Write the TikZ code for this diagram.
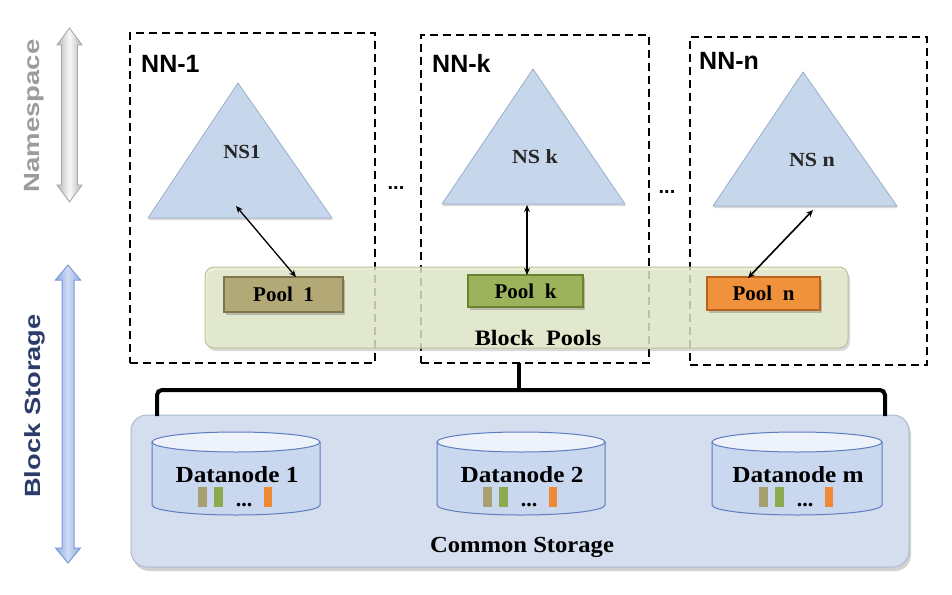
\documentclass[tikz,border=0pt]{standalone}
\usepackage{fontspec}
\setmainfont{Liberation Serif}
\newfontfamily\arialf{Liberation Sans}
\usetikzlibrary{shadows,arrows.meta}
\definecolor{trifill}{HTML}{C6D6EB}
\definecolor{tridraw}{HTML}{9AAFCB}
\definecolor{bpfill}{HTML}{E6EDCC}
\definecolor{bpdraw}{HTML}{BCC29A}
\definecolor{poolA}{HTML}{B3A977}
\definecolor{poolAd}{HTML}{7F754A}
\definecolor{poolB}{HTML}{9CB35C}
\definecolor{poolBd}{HTML}{6A8232}
\definecolor{poolC}{HTML}{F0923C}
\definecolor{poolCd}{HTML}{B8621C}
\definecolor{csfill}{HTML}{D4DEEE}
\definecolor{csdraw}{HTML}{A9B8D2}
\definecolor{cylfill}{HTML}{C9D7EF}
\definecolor{cyltopc}{HTML}{EEF2FA}
\definecolor{cyldraw}{HTML}{5C7DBE}
\definecolor{nsgray}{HTML}{9C9C9C}
\definecolor{nsarrow}{HTML}{A4A4A4}
\definecolor{bsblue}{HTML}{2B3C6B}
\definecolor{bsarrow}{HTML}{BCCDF0}
\definecolor{bsarrowd}{HTML}{7D9AD8}
\definecolor{barA}{HTML}{A9A071}
\definecolor{barB}{HTML}{8CAA4E}
\definecolor{barC}{HTML}{EE8A35}
\newcommand\myfs[1]{\fontsize{#1}{#1}\selectfont}
\begin{document}
\begin{tikzpicture}[x=1pt,y=-1pt,
  nnbox/.style={draw=black, line width=2.6pt, dash pattern=on 8pt off 5pt, inner sep=0pt},
  nnlabel/.style={anchor=base west, inner sep=0pt, font=\arialf\bfseries\myfs{25}},
  tri/.style={fill=trifill, draw=tridraw, line width=0.8pt, drop shadow={shadow xshift=0.5pt, shadow yshift=-2pt, opacity=0.3}},
  nslabel/.style={inner sep=0pt, font=\bfseries\myfs{20}, text=black!85},
  poolbox/.style={line width=2.5pt, minimum height=33pt, inner sep=0pt, font=\bfseries\myfs{21},
    drop shadow={shadow xshift=2pt, shadow yshift=-3pt, opacity=0.45}},
  link/.style={draw=black, line width=1.3pt, {Stealth[length=7pt,width=6pt]}-{Stealth[length=7pt,width=6pt]}},
  dotsep/.style={inner sep=0pt, font=\arialf\bfseries\myfs{20}},
  bracket/.style={draw=black, line width=4pt, rounded corners=5pt},
  cyl/.style={fill=cylfill, draw=cyldraw, line width=1pt},
  cyltop/.style={fill=cyltopc, draw=cyldraw, line width=1pt},
  dnlabel/.style={inner sep=0pt, font=\bfseries\myfs{23}},
  bar/.style={minimum width=9pt, minimum height=20pt, inner sep=0pt},
  sidetext/.style={rotate=90, inner sep=0pt, font=\arialf\bfseries\myfs{22}}
]
\useasboundingbox (0,0) rectangle (952,594);
\fill[white] (0,0) rectangle (952,594);

% side arrows
\draw[draw=nsarrow, line width=0.8pt, left color=nsarrow!80, right color=nsarrow!80, middle color=white!95!gray]
  (69.5,28) -- (82,45) -- (77.5,45) -- (77.5,185) -- (82,185) -- (69.5,202) -- (57,185)
  -- (61.5,185) -- (61.5,45) -- (57,45) -- cycle;
\node[sidetext, text=nsgray] (nstext) at (34,116) {\scalebox{1.25}[1]{Namespace}};
\draw[draw=bsarrowd, line width=1pt, left color=bsarrowd!70!bsarrow, right color=bsarrowd!70!bsarrow, middle color=bsarrow!70!white]
  (68,265) -- (80.5,280) -- (74,280) -- (74,548) -- (80.5,548) -- (68,563) -- (55.5,548)
  -- (62,548) -- (62,280) -- (55.5,280) -- cycle;
\node[sidetext, text=bsblue] (bstext) at (35,406) {\scalebox{1.24}[1]{Block Storage}};

% name node boxes
\node[nnbox, minimum width=245pt, minimum height=330pt] (nn1) at (252.5,198) {};
\node[nnbox, minimum width=228pt, minimum height=328pt] (nnk) at (535,199) {};
\node[nnbox, minimum width=237pt, minimum height=328pt] (nnn) at (808.5,201) {};
\node[nnlabel] (nn1l) at (141,72) {NN-1};
\node[nnlabel] (nnkl) at (432,72) {NN-k};
\node[nnlabel] (nnnl) at (699,70) {NN-n};
\node[dotsep] (dots1) at (396,188) {...};
\node[dotsep] (dots2) at (667,192) {...};

% namespaces
\draw[tri] (148,218) -- (238,83) -- (332,218) -- cycle;
\draw[tri] (442,204) -- (533,69) -- (625,204) -- cycle;
\draw[tri] (713,206) -- (803,72) -- (897,206) -- cycle;
\node[nslabel] (ns1) at (242,152) {\scalebox{1.05}[1]{NS1}};
\node[nslabel] (nsk) at (535,157) {\scalebox{1.1}[1]{NS k}};
\node[nslabel] (nsn) at (812,160) {\scalebox{1.1}[1]{NS n}};

% block pools
\node[fill=bpfill, fill opacity=0.78, draw=bpdraw, line width=1pt, rounded corners=9pt,
  minimum width=643pt, minimum height=81pt, inner sep=0pt,
  drop shadow={shadow xshift=2pt, shadow yshift=-3pt, opacity=0.3}] (bp) at (526.5,307.5) {};
\node[inner sep=0pt, font=\bfseries\myfs{22}] (bpl) at (538,338) {\scalebox{1.1}[1]{Block\ \ Pools}};
\node[poolbox, fill=poolA, draw=poolAd, minimum width=119pt, minimum height=35pt] (p1) at (283.5,294.5) {Pool\ \ 1};
\node[poolbox, fill=poolB, draw=poolBd, minimum width=115pt, minimum height=32pt] (pk) at (525.5,291) {Pool\ \ k};
\node[poolbox, fill=poolC, draw=poolCd, minimum width=113pt, minimum height=33pt] (pn) at (763.5,293.5) {Pool\ \ n};

% links namespace <-> pool
\coordinate (a1) at (236,206);
\coordinate (a1p) at (296,277);
\coordinate (ak) at (527,205);
\coordinate (akp) at (527,275);
\coordinate (an) at (813,210);
\coordinate (anp) at (748,278);
\draw[link] (a1) -- (a1p);
\draw[link, line width=2pt] (ak) -- (akp);
\draw[link, line width=1.6pt] (an) -- (anp);

% common storage
\node[fill=csfill, draw=csdraw, line width=1pt, rounded corners=16pt,
  minimum width=778pt, minimum height=152pt, inner sep=0pt,
  drop shadow={shadow xshift=2pt, shadow yshift=-4pt, opacity=0.35}] (cs) at (520,491) {};
\node[inner sep=0pt, font=\bfseries\myfs{23}] (csl) at (522,547) {\scalebox{1.07}[1]{Common Storage}};

% bracket
\coordinate (bl) at (157,416);
\coordinate (br) at (885,416);
\coordinate (bs) at (519,363);
\coordinate (bm) at (519,390);
\draw[bracket] (bl) -- (157,390) -- (885,390) -- (br);
\draw[draw=black, line width=4pt] (bs) -- (bm);

% datanodes
\foreach \cx/\w/\nm/\lab in {236/84/d1/Datanode 1, 521/84/d2/Datanode 2, 797/85/dm/Datanode m}{
  \draw[cyl] (\cx-\w,442) -- (\cx-\w,505)
     arc[start angle=180, end angle=360, x radius=\w pt, y radius=10pt] -- (\cx+\w,442) -- cycle;
  \draw[cyltop] (\cx,442) ellipse[x radius=\w pt, y radius=10pt];
  \node[dnlabel] (\nm) at (\cx+1,475) {\scalebox{1.1}[1]{\lab}};
  \node[bar, fill=barA] (\nm a) at (\cx-33.5,497) {};
  \node[bar, fill=barB] (\nm b) at (\cx-17.5,497) {};
  \node[inner sep=0pt, anchor=base, font=\bfseries\myfs{22}] (\nm d) at (\cx+8,506) {...};
  \node[bar, fill=barC, minimum width=8pt] (\nm c) at (\cx+31.5,497) {};
}
\end{tikzpicture}
\end{document}
